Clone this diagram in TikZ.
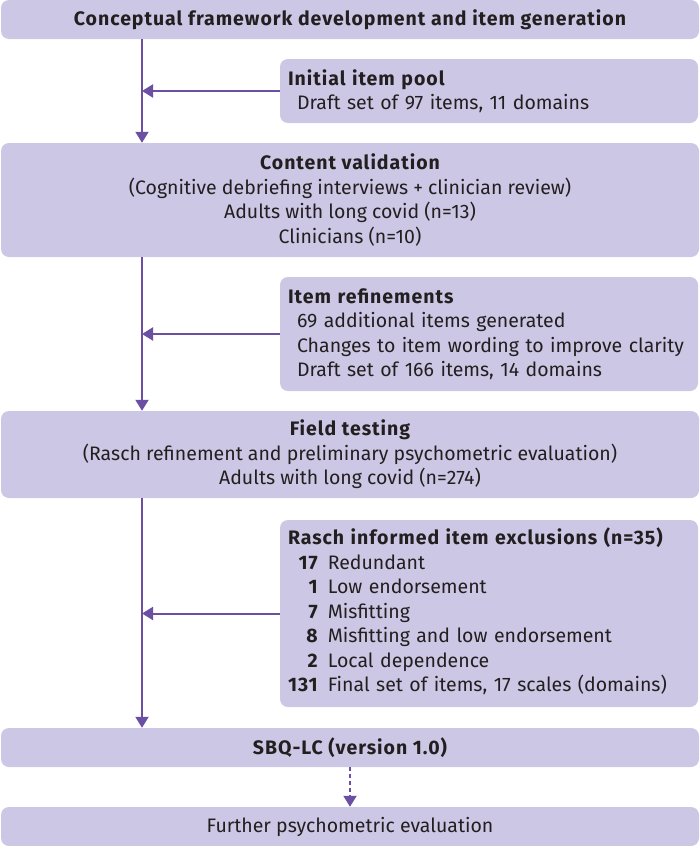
\documentclass[tikz,border=0pt]{standalone}
\usepackage{fontspec}
\setmainfont{Fira Sans}[BoldFeatures={LetterSpace=5}]
\usetikzlibrary{arrows.meta}
\definecolor{boxfill}{RGB}{204,199,228}
\definecolor{arrowc}{RGB}{106,79,163}
\definecolor{txt}{RGB}{35,31,32}
\tikzset{
  box/.style={draw=none, fill=boxfill, rounded corners=8pt, inner sep=0pt, text=txt,
    font=\fontsize{19.5}{24.5}\selectfont},
  widebox/.style={box, minimum width=698pt, align=center},
  sidebox/.style={box, minimum width=418pt, text width=402pt, inner xsep=8pt, align=left},
  arr/.style={draw=arrowc, line width=2pt, -{Triangle[width=13pt,length=11pt]}},
  darr/.style={arr, dash pattern=on 4pt off 3pt},
}
\begin{document}
\begin{tikzpicture}[x=1pt,y=-1pt]
\useasboundingbox (0,0) rectangle (700,846);
\coordinate (spine) at (142,0);
\coordinate (spine2) at (350,0);
\node[widebox, minimum height=39pt] (b1) at (350,19.5) {\bfseries Conceptual framework development and item generation};
\node[sidebox, minimum height=64pt] (b2) at (489,91) {{\bfseries Initial item pool}\\\hspace*{9pt}Draft set of 97 items, 11 domains};
\node[widebox, minimum height=114pt] (b3) at (350,200) {{\bfseries Content validation}\\(Cognitive debriefing interviews + clinician review)\\Adults with long covid (n=13)\\Clinicians (n=10)};
\node[sidebox, minimum height=114pt] (b4) at (489,334) {{\bfseries Item refinements}\\\hspace*{9pt}69 additional items generated\\\hspace*{9pt}Changes to item wording to improve clarity\\\hspace*{9pt}Draft set of 166 items, 14 domains};
\node[widebox, minimum height=87pt] (b5) at (350,454.5) {{\bfseries Field testing}\\(Rasch refinement and preliminary psychometric evaluation)\\Adults with long covid (n=274)};
\node[sidebox, minimum height=187pt] (b6) at (489,613.5) {\begin{tabular}{@{}r@{\hspace{10pt}}l@{}}
\multicolumn{2}{@{}l@{}}{\bfseries Rasch informed item exclusions (n=35)}\\
\bfseries 17 & Redundant\\
\bfseries 1 & Low endorsement\\
\bfseries 7 & Misfitting\\
\bfseries 8 & Misfitting and low endorsement\\
\bfseries 2 & Local dependence\\
\bfseries 131 & Final set of items, 17 scales (domains)
\end{tabular}};
\node[widebox, minimum height=39pt] (b7) at (350,747.5) {\bfseries SBQ-LC (version 1.0)};
\node[widebox, minimum height=39pt] (b8) at (350,826.5) {Further psychometric evaluation};
\draw[arr] (b1.south -| spine) -- (b3.north -| spine);
\draw[arr] (b3.south -| spine) -- (b5.north -| spine);
\draw[arr] (b5.south -| spine) -- (b7.north -| spine);
\draw[arr] (b2.west) -- (b2.west -| spine);
\draw[arr] (b4.west) -- (b4.west -| spine);
\draw[arr] (b6.west) -- (b6.west -| spine);
\draw[darr] (b7.south -| spine2) -- (b8.north -| spine2);
\end{tikzpicture}
\end{document}
